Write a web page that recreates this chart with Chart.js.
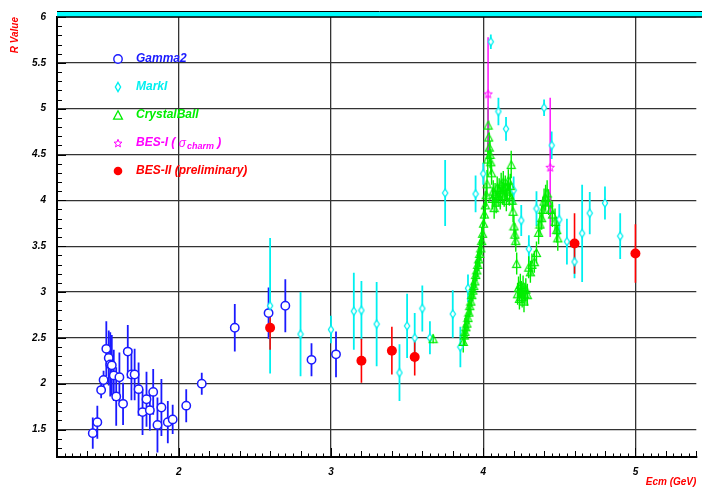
<!DOCTYPE html>
<html>
<head>
<meta charset="utf-8">
<script src="https://cdn.jsdelivr.net/npm/chart.js@4/dist/chart.umd.min.js"></script>
<style>
html,body{margin:0;padding:0;background:#fff;}
#wrap{width:702px;height:487px;}
</style>
</head>
<body>
<div id="wrap"><canvas id="c" width="702" height="487"></canvas></div>
<script>
// ---- R value measurements: energy (GeV), R, error ----
const gammaX   = [1.435,1.465,1.49,1.506,1.524,1.54,1.55,1.56,1.573,1.589,1.61,1.634,1.665,1.689,1.71,1.736,1.762,1.788,1.81,1.832,1.86,1.886,1.928,1.96,2.049,2.151,2.368,2.59,2.70,2.872,3.033];
const gammaY   = [1.46,1.58,1.93,2.04,2.38,2.28,2.21,2.20,2.09,1.86,2.07,1.78,2.35,2.10,2.10,1.94,1.69,1.83,1.71,1.91,1.55,1.74,1.58,1.61,1.76,2.00,2.61,2.77,2.85,2.26,2.32];
const gammaErr = [0.17,0.18,0.09,0.10,0.30,0.30,0.35,0.33,0.28,0.32,0.27,0.23,0.29,0.28,0.28,0.29,0.25,0.30,0.22,0.25,0.30,0.31,0.23,0.16,0.18,0.12,0.26,0.28,0.29,0.18,0.25];

const markX   = [2.60,2.80,3.00,3.15,3.20,3.30,3.45,3.50,3.55,3.60,3.65,3.75,3.80,3.85,3.90,3.95,4.00,4.05,4.10,4.15,4.20,4.25,4.30,4.35,4.40,4.45,4.50,4.55,4.60,4.65,4.70,4.80,4.90];
const markY   = [2.85,2.54,2.59,2.79,2.80,2.65,2.12,2.63,2.50,2.82,2.50,4.08,2.76,2.40,3.04,4.07,4.29,5.73,4.97,4.78,4.11,3.78,3.47,3.91,5.01,4.60,3.79,3.55,3.33,3.64,3.86,3.97,3.61];
const markErr = [0.74,0.46,0.15,0.42,0.32,0.46,0.31,0.35,0.27,0.25,0.18,0.36,0.26,0.22,0.15,0.20,0.12,0.08,0.15,0.13,0.15,0.17,0.15,0.19,0.09,0.15,0.17,0.25,0.18,0.53,0.23,0.18,0.25];

const cbX   = [3.671,3.869,3.876,3.88,3.886,3.893,3.90,3.906,3.912,3.919,3.925,3.932,3.938,3.945,3.951,3.958,3.964,3.971,3.977,3.984,3.990,3.996,4.002,4.008,4.014,4.020,4.025,4.030,4.032,4.036,4.040,4.045,4.050,4.055,4.060,4.066,4.072,4.078,4.085,4.092,4.098,4.105,4.112,4.118,4.125,4.132,4.138,4.145,4.152,4.158,4.165,4.172,4.178,4.184,4.19,4.196,4.202,4.208,4.214,4.220,4.226,4.232,4.238,4.244,4.250,4.256,4.262,4.268,4.274,4.280,4.290,4.299,4.310,4.320,4.336,4.350,4.364,4.373,4.384,4.392,4.400,4.410,4.420,4.430,4.444,4.455,4.472,4.483,4.490];
const cbY   = [2.49,2.46,2.53,2.57,2.62,2.66,2.72,2.78,2.85,2.90,2.97,3.02,3.07,3.12,3.19,3.24,3.30,3.36,3.42,3.48,3.56,3.64,3.75,3.85,3.95,4.06,4.18,4.45,4.82,4.69,4.58,4.50,4.42,4.30,4.02,4.10,3.92,4.07,3.98,4.14,4.05,4.12,4.02,4.18,4.08,4.20,4.05,4.15,4.00,4.10,4.22,4.06,4.16,4.39,4.00,3.88,3.72,3.63,3.56,3.31,2.98,3.05,2.93,3.08,3.00,2.95,3.06,2.90,2.98,3.03,2.97,3.27,3.22,3.30,3.33,3.43,3.65,3.74,3.81,3.90,3.99,4.03,4.08,3.98,3.90,3.85,3.77,3.68,3.59];
const cbErr = [0.05,0.12,0.12,0.15,0.13,0.12,0.14,0.13,0.12,0.15,0.13,0.12,0.14,0.13,0.15,0.12,0.14,0.13,0.15,0.14,0.15,0.13,0.14,0.13,0.15,0.13,0.15,0.18,0.20,0.18,0.16,0.15,0.14,0.13,0.12,0.12,0.12,0.12,0.12,0.12,0.12,0.12,0.12,0.12,0.12,0.12,0.12,0.12,0.12,0.12,0.12,0.12,0.13,0.15,0.12,0.12,0.12,0.12,0.12,0.12,0.12,0.12,0.12,0.12,0.12,0.12,0.12,0.12,0.12,0.12,0.12,0.12,0.12,0.12,0.12,0.12,0.13,0.13,0.13,0.14,0.14,0.14,0.14,0.14,0.14,0.14,0.14,0.14,0.14];

const bes1X   = [4.032,4.44];
const bes1Y   = [5.16,4.36];
const bes1Err = [0.62,0.76];

const bes2X   = [2.60,3.20,3.40,3.55,4.60,5.00];
const bes2Y   = [2.61,2.25,2.36,2.29,3.53,3.42];
const bes2Err = [0.24,0.24,0.26,0.20,0.33,0.32];

const seriesNames = ['Gamma2','MarkI','CrystalBall','BES-I','BES-II (preliminary)'];
const xTicks = [2,3,4,5];
const yTicks = [1.5,2,2.5,3,3.5,4,4.5,5,5.5,6];

const BLUE='#1a1aff', CYAN='#00f0f0', GREEN='#00ee00', MAGENTA='#ff00ff', RED='#ff0000';
const FONT='"Liberation Sans", Arial, Helvetica, sans-serif';

// ---- marker sprites ----
function sprite(w,h,draw){
  const c=document.createElement('canvas'); c.width=w; c.height=h;
  draw(c.getContext('2d')); return c;
}
function diamondPath(ctx,cx,cy,hw,hh){
  ctx.beginPath(); ctx.moveTo(cx,cy-hh); ctx.lineTo(cx+hw,cy); ctx.lineTo(cx,cy+hh); ctx.lineTo(cx-hw,cy); ctx.closePath();
}
function trianglePath(ctx,cx,cy,hw,hh){
  ctx.beginPath(); ctx.moveTo(cx,cy-hh); ctx.lineTo(cx+hw,cy+hh); ctx.lineTo(cx-hw,cy+hh); ctx.closePath();
}
function starPath(ctx,cx,cy,ro,ri){
  ctx.beginPath();
  for(let k=0;k<10;k++){
    const r=k%2?ri:ro, a=-Math.PI/2+k*Math.PI/5;
    const px=cx+r*Math.cos(a), py=cy+r*Math.sin(a);
    k?ctx.lineTo(px,py):ctx.moveTo(px,py);
  }
  ctx.closePath();
}
const diamondImg = sprite(8,12,ctx=>{diamondPath(ctx,4,6,2.6,4);ctx.fillStyle='#fff';ctx.fill();ctx.strokeStyle=CYAN;ctx.lineWidth=1.3;ctx.stroke();});
const triangleImg = sprite(11,11,ctx=>{trianglePath(ctx,5.5,5.5,4,3.8);ctx.strokeStyle=GREEN;ctx.lineWidth=1.2;ctx.stroke();});
const starImg = sprite(11,11,ctx=>{starPath(ctx,5.5,5.8,4.4,1.9);ctx.strokeStyle=MAGENTA;ctx.lineWidth=1;ctx.stroke();});

const pts = (xs,ys)=>xs.map((x,i)=>({x:x,y:ys[i]}));

// ---- vertical error bars, drawn through the chart scales ----
const errorBars = {
  id:'errorBars',
  beforeDatasetsDraw(chart){
    const {ctx, chartArea:a, scales:{x,y}} = chart;
    ctx.save();
    ctx.beginPath(); ctx.rect(a.left,a.top,a.right-a.left,a.bottom-a.top); ctx.clip();
    const sets = chart.data.datasets;
    for(let i=sets.length-1;i>=0;i--){
      const ds=sets[i];
      ctx.strokeStyle=ds.errColor; ctx.lineWidth=ds.errWidth;
      ds.data.forEach((p,j)=>{
        const e=ds.errs[j], px=x.getPixelForValue(p.x);
        ctx.beginPath();
        ctx.moveTo(px,y.getPixelForValue(p.y-e));
        ctx.lineTo(px,y.getPixelForValue(p.y+e));
        ctx.stroke();
      });
    }
    ctx.restore();
  }
};

// ---- frame decorations: top band and inward minor ticks ----
const frame = {
  id:'frame',
  afterDraw(chart){
    const {ctx, chartArea:a, scales:{x,y}} = chart;
    ctx.save();
    ctx.fillStyle='#00ffff';
    ctx.fillRect(a.left,a.top-5,chart.width-a.left,5);
    ctx.strokeStyle='#000'; ctx.lineWidth=1;
    ctx.beginPath(); ctx.moveTo(a.left,a.top-5.5); ctx.lineTo(chart.width,a.top-5.5); ctx.stroke();
    ctx.lineWidth=1.5;
    ctx.beginPath(); ctx.moveTo(a.left,a.top); ctx.lineTo(chart.width,a.top); ctx.stroke();
    ctx.lineWidth=1;
    for(let k=12;k<=60;k++){
      const v=k/10, py=Math.round(y.getPixelForValue(v))+0.5;
      const len = k%5===0 ? 9 : 5;
      ctx.beginPath(); ctx.moveTo(a.left,py); ctx.lineTo(a.left+len,py); ctx.stroke();
    }
    for(let k=24;k<=108;k++){
      const v=k/20, px=Math.round(x.getPixelForValue(v))+0.5;
      const len = k%20===0 ? 9 : (k%4===0 ? 6 : 3.5);
      ctx.beginPath(); ctx.moveTo(px,a.bottom); ctx.lineTo(px,a.bottom-len); ctx.stroke();
    }
    ctx.restore();
  }
};

// ---- in-plot key ----
const keyBox = {
  id:'keyBox',
  afterDraw(chart){
    const ctx=chart.ctx;
    const mx=118, tx=136, rows=[59,87,115,143,171];
    ctx.save();
    // markers
    ctx.lineWidth=1.4;
    ctx.strokeStyle=BLUE; ctx.fillStyle='#fff';
    ctx.beginPath(); ctx.arc(mx,rows[0],4.2,0,Math.PI*2); ctx.fill(); ctx.stroke();
    ctx.strokeStyle=CYAN; diamondPath(ctx,mx,rows[1],2.6,4.5); ctx.fill(); ctx.stroke();
    ctx.strokeStyle=GREEN; ctx.lineWidth=1.3; trianglePath(ctx,mx,rows[2],4.4,4.2); ctx.stroke();
    ctx.strokeStyle=MAGENTA; ctx.lineWidth=1; starPath(ctx,mx,rows[3]+0.5,4.2,1.8); ctx.stroke();
    ctx.fillStyle=RED; ctx.beginPath(); ctx.arc(mx,rows[4],4.3,0,Math.PI*2); ctx.fill();
    // labels
    ctx.textBaseline='middle'; ctx.textAlign='left';
    const f='italic bold 12px '+FONT;
    ctx.font=f;
    ctx.fillStyle=BLUE;  ctx.fillText(seriesNames[0],tx,rows[0]);
    ctx.fillStyle=CYAN;  ctx.fillText(seriesNames[1],tx,rows[1]);
    ctx.fillStyle=GREEN; ctx.fillText(seriesNames[2],tx,rows[2]);
    ctx.fillStyle=MAGENTA;
    let cx=tx;
    ctx.fillText(seriesNames[3]+' ( ',cx,rows[3]); cx+=ctx.measureText(seriesNames[3]+' ( ').width;
    ctx.font='italic 12px '+FONT; ctx.fillText('\u03c3',cx,rows[3]+1); cx+=ctx.measureText('\u03c3').width+1;
    ctx.font='italic bold 9px '+FONT; ctx.fillText('charm',cx,rows[3]+4); cx+=ctx.measureText('charm').width;
    ctx.font=f; ctx.fillText(' )',cx,rows[3]);
    ctx.fillStyle=RED; ctx.fillText(seriesNames[4],tx,rows[4]);
    ctx.restore();
  }
};

const tickFont = {family:FONT, size:10, weight:'bold', style:'italic'};
const plainNum = v => String(+v);

new Chart(document.getElementById('c'), {
  type:'scatter',
  data:{
    datasets:[
      {label:seriesNames[4], data:pts(bes2X,bes2Y), errs:bes2Err, errColor:RED, errWidth:1.6,
       pointStyle:'circle', pointRadius:5, backgroundColor:RED, borderColor:RED, borderWidth:0},
      {label:seriesNames[3], data:pts(bes1X,bes1Y), errs:bes1Err, errColor:MAGENTA, errWidth:1.4,
       pointStyle:starImg},
      {label:seriesNames[2], data:pts(cbX,cbY), errs:cbErr, errColor:GREEN, errWidth:1.4,
       pointStyle:triangleImg},
      {label:seriesNames[1], data:pts(markX,markY), errs:markErr, errColor:CYAN, errWidth:1.8,
       pointStyle:diamondImg},
      {label:seriesNames[0], data:pts(gammaX,gammaY), errs:gammaErr, errColor:BLUE, errWidth:1.8,
       pointStyle:'circle', pointRadius:4.2, backgroundColor:'#fff', borderColor:BLUE, borderWidth:1.5}
    ]
  },
  options:{
    responsive:false,
    animation:false,
    devicePixelRatio:1,
    layout:{padding:{top:12,right:0,left:0,bottom:0}},
    plugins:{legend:{display:false}, tooltip:{enabled:false}},
    events:[],
    scales:{
      x:{
        type:'linear', min:1.2, max:5.4,
        afterBuildTicks(s){ s.ticks = xTicks.map(v=>({value:v})); },
        afterFit(s){ s.height = 30; },
        grid:{color:'#333', lineWidth:1.3, drawTicks:false},
        border:{color:'#000', width:2},
        ticks:{font:tickFont, color:'#000', padding:9, maxRotation:0, callback:plainNum},
        title:{display:true, text:'Ecm (GeV)', align:'end', color:RED, font:tickFont, padding:{top:0,bottom:-1}}
      },
      y:{
        type:'linear', min:1.2, max:6,
        afterBuildTicks(s){ s.ticks = yTicks.map(v=>({value:v})); },
        afterFit(s){ s.width = 57; },
        grid:{color:'#333', lineWidth:1.3, drawTicks:false},
        border:{color:'#000', width:2},
        ticks:{font:tickFont, color:'#000', padding:11, callback:plainNum},
        title:{display:true, text:'R Value', align:'end', color:RED, font:tickFont, padding:{top:9,bottom:0}}
      }
    }
  },
  plugins:[errorBars, frame, keyBox]
});
</script>
</body>
</html>
